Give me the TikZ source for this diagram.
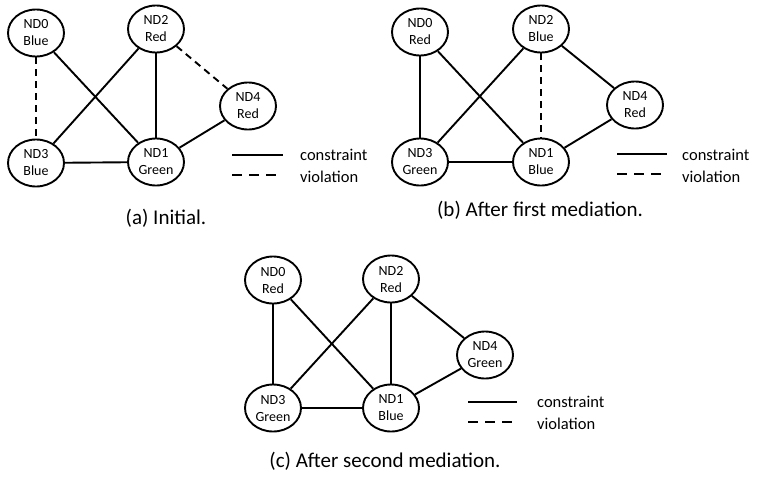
\documentclass[tikz,border=0pt]{standalone}
\usepackage{fontspec}
\setmainfont{Carlito}
\usetikzlibrary{shapes.geometric}
\tikzset{
  nd/.style={draw, ellipse, line width=1.9pt, minimum width=56pt, minimum height=47pt, inner sep=0pt, align=center, font=\fontsize{14}{17}\selectfont},
  edge/.style={line width=1.9pt},
  viol/.style={line width=1.9pt, dash pattern=on 7pt off 5pt},
  legsolid/.style={line width=1.9pt},
  legdash/.style={line width=1.9pt, dash pattern=on 10pt off 7pt},
  legtext/.style={anchor=west, inner sep=0pt, font=\fontsize{16.5}{18}\selectfont},
  captext/.style={inner sep=0pt, font=\fontsize{21}{24}\selectfont}
}
\begin{document}
\begin{tikzpicture}[x=1pt,y=-1pt]
\useasboundingbox (0,0) rectangle (758,480);
% ---------- (a)
\node[nd] (a0) at (36,33) {ND0\\Blue};
\node[nd] (a2) at (156,29) {ND2\\Red};
\node[nd] (a4) at (248,106) {ND4\\Red};
\node[nd] (a3) at (36,163) {ND3\\Blue};
\node[nd] (a1) at (156,162) {ND1\\Green};
\draw[viol] (a0) -- (a3);
\draw[edge] (a0) -- (a1);
\draw[edge] (a2) -- (a3);
\draw[edge] (a2) -- (a1);
\draw[viol] (a2) -- (a4);
\draw[edge] (a4) -- (a1);
\draw[edge] (a3) -- (a1);
\coordinate (la1) at (232,155); \coordinate (la2) at (283,155);
\coordinate (la3) at (232,175); \coordinate (la4) at (283,175);
\draw[legsolid] (la1) -- (la2);
\draw[legdash] (la3) -- (la4);
\node[legtext] (lat1) at (300,155) {constraint};
\node[legtext] (lat2) at (300,177) {violation};
\node[captext] (capa) at (166,218) {(a) Initial.};
% ---------- (b)
\node[nd] (b0) at (420,32) {ND0\\Red};
\node[nd] (b2) at (541,29) {ND2\\Blue};
\node[nd] (b4) at (635,105) {ND4\\Red};
\node[nd] (b3) at (420,162) {ND3\\Green};
\node[nd] (b1) at (541,162) {ND1\\Blue};
\draw[edge] (b0) -- (b3);
\draw[edge] (b0) -- (b1);
\draw[edge] (b2) -- (b3);
\draw[viol] (b2) -- (b1);
\draw[edge] (b2) -- (b4);
\draw[edge] (b4) -- (b1);
\draw[edge] (b3) -- (b1);
\coordinate (lb1) at (617,154); \coordinate (lb2) at (667,154);
\coordinate (lb3) at (617,174); \coordinate (lb4) at (667,174);
\draw[legsolid] (lb1) -- (lb2);
\draw[legdash] (lb3) -- (lb4);
\node[legtext] (lbt1) at (682,155) {constraint};
\node[legtext] (lbt2) at (682,177) {violation};
\node[captext] (capb) at (540,210) {(b) After first mediation.};
% ---------- (c)
\node[nd] (c0) at (273,280) {ND0\\Red};
\node[nd] (c2) at (391,279) {ND2\\Red};
\node[nd] (c4) at (485,355) {ND4\\Green};
\node[nd] (c3) at (273,408) {ND3\\Green};
\node[nd] (c1) at (391,408) {ND1\\Blue};
\draw[edge] (c0) -- (c3);
\draw[edge] (c0) -- (c1);
\draw[edge] (c2) -- (c3);
\draw[edge] (c2) -- (c1);
\draw[edge] (c2) -- (c4);
\draw[edge] (c4) -- (c1);
\draw[edge] (c3) -- (c1);
\coordinate (lc1) at (468,402); \coordinate (lc2) at (517,402);
\coordinate (lc3) at (468,422); \coordinate (lc4) at (517,422);
\draw[legsolid] (lc1) -- (lc2);
\draw[legdash] (lc3) -- (lc4);
\node[legtext] (lct1) at (537,402) {constraint};
\node[legtext] (lct2) at (537,424) {violation};
\node[captext] (capc) at (385,461) {(c) After second mediation.};
\end{tikzpicture}
\end{document}
